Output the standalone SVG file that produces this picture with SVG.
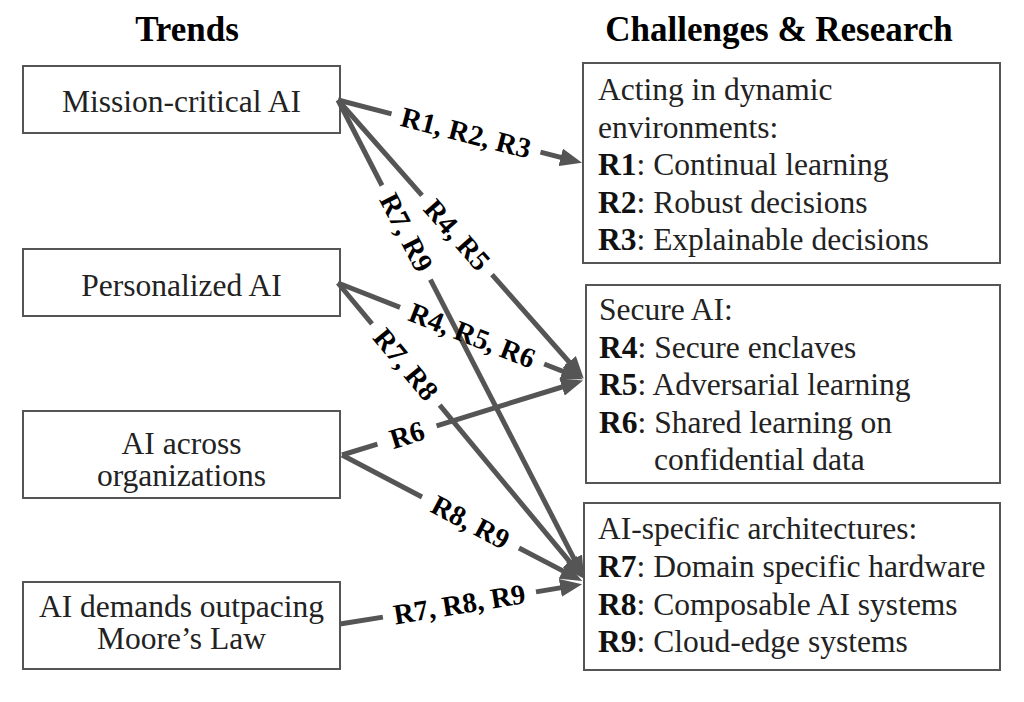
<svg xmlns="http://www.w3.org/2000/svg" width="1024" height="702" viewBox="0 0 1024 702">
<style>
.box{fill:#fff;stroke:#555;stroke-width:2}
.t{font-family:"Liberation Serif","Times New Roman",serif;font-size:31.5px;fill:#222}
.title{font-family:"Liberation Serif","Times New Roman",serif;font-size:35px;font-weight:bold;fill:#000;text-anchor:middle}
.c{text-anchor:middle}
.b{font-weight:bold;fill:#111}
.ln{stroke:#555;stroke-width:5;fill:none}
.lbl{font-family:"Liberation Serif","Times New Roman",serif;font-size:28.5px;font-weight:bold;fill:#000;text-anchor:middle}
</style>
<defs>
<marker id="ah" markerUnits="userSpaceOnUse" markerWidth="22" markerHeight="18" viewBox="0 0 22 18" refX="12" refY="9" orient="auto">
<path d="M0,0 L22,9 L0,18 z" fill="#555"/>
</marker>
</defs>
<rect width="1024" height="702" fill="#fff"/>
<text class="title" x="187" y="41">Trends</text>
<text class="title" x="779" y="41">Challenges &amp; Research</text>

<g id="trend-mission">
<rect class="box" x="23" y="66" width="317" height="67"/>
<text class="t c" x="181.5" y="112">Mission-critical AI</text>
</g>
<g id="trend-personalized">
<rect class="box" x="23" y="249" width="317" height="67"/>
<text class="t c" x="181.5" y="296">Personalized AI</text>
</g>
<g id="trend-orgs">
<rect class="box" x="23" y="411" width="317" height="87"/>
<text class="t c" x="181.5" y="454">AI across</text>
<text class="t c" x="181.5" y="486">organizations</text>
</g>
<g id="trend-moore">
<rect class="box" x="23" y="582" width="317" height="87"/>
<text class="t c" x="181.5" y="617">AI demands outpacing</text>
<text class="t c" x="181.5" y="649">Moore’s Law</text>
</g>

<g id="ch-dynamic">
<rect class="box" x="583" y="63" width="417" height="200"/>
<text class="t" x="598" y="100">Acting in dynamic</text>
<text class="t" x="598" y="137.5">environments:</text>
<text class="t" x="598" y="175"><tspan class="b">R1</tspan>: Continual learning</text>
<text class="t" x="598" y="212.5"><tspan class="b">R2</tspan>: Robust decisions</text>
<text class="t" x="598" y="250"><tspan class="b">R3</tspan>: Explainable decisions</text>
</g>
<g id="ch-secure">
<rect class="box" x="586" y="285" width="414" height="198"/>
<text class="t" x="599" y="320">Secure AI:</text>
<text class="t" x="599" y="357.5"><tspan class="b">R4</tspan>: Secure enclaves</text>
<text class="t" x="599" y="395"><tspan class="b">R5</tspan>: Adversarial learning</text>
<text class="t" x="599" y="432.5"><tspan class="b">R6</tspan>: Shared learning on</text>
<text class="t" x="654" y="470">confidential data</text>
</g>
<g id="ch-arch">
<rect class="box" x="584" y="503" width="416" height="167"/>
<text class="t" x="598" y="539">AI-specific architectures:</text>
<text class="t" x="598" y="577"><tspan class="b">R7</tspan>: Domain specific hardware</text>
<text class="t" x="598" y="614.5"><tspan class="b">R8</tspan>: Composable AI systems</text>
<text class="t" x="598" y="652"><tspan class="b">R9</tspan>: Cloud-edge systems</text>
</g>

<g id="connectors">
<line class="ln" x1="338" y1="100" x2="391.5" y2="113.8"/>
<line class="ln" x1="540.5" y1="152.2" x2="572.3" y2="160.3" marker-end="url(#ah)"/>
<text class="lbl" transform="translate(466,133) rotate(14.42)" dy="0.33em">R1, R2, R3</text>

<line class="ln" x1="338" y1="100" x2="422" y2="195.3"/>
<line class="ln" x1="492" y1="274.7" x2="577.1" y2="371" marker-end="url(#ah)"/>
<text class="lbl" transform="translate(457,235) rotate(48.58)" dy="0.33em">R4, R5</text>

<line class="ln" x1="338" y1="100" x2="382" y2="185.5"/>
<line class="ln" x1="430.4" y1="279.6" x2="579.5" y2="569.3" marker-end="url(#ah)"/>
<text class="lbl" transform="translate(406.2,232.5) rotate(62.77)" dy="0.33em">R7, R9</text>

<line class="ln" x1="338" y1="283" x2="400" y2="307.3"/>
<line class="ln" x1="544.2" y1="364" x2="573.8" y2="375.6" marker-end="url(#ah)"/>
<text class="lbl" transform="translate(472,335.6) rotate(21.44)" dy="0.33em">R4, R5, R6</text>

<line class="ln" x1="338" y1="283" x2="372" y2="323.9"/>
<line class="ln" x1="439.7" y1="405.2" x2="577.3" y2="570.8" marker-end="url(#ah)"/>
<text class="lbl" transform="translate(405.8,364.5) rotate(50.26)" dy="0.33em">R7, R8</text>

<line class="ln" x1="342" y1="455" x2="377.4" y2="444.1"/>
<line class="ln" x1="436.6" y1="425.8" x2="573.5" y2="383.5" marker-end="url(#ah)"/>
<text class="lbl" transform="translate(407,435) rotate(-17.15)" dy="0.33em">R6</text>

<line class="ln" x1="342" y1="455" x2="422" y2="497"/>
<line class="ln" x1="519" y1="548" x2="573.4" y2="576.4" marker-end="url(#ah)"/>
<text class="lbl" transform="translate(470.4,522.4) rotate(27.69)" dy="0.33em">R8, R9</text>

<line class="ln" x1="340" y1="624" x2="382.9" y2="617.1"/>
<line class="ln" x1="536" y1="591.9" x2="572.2" y2="585.9" marker-end="url(#ah)"/>
<text class="lbl" transform="translate(459.4,604.4) rotate(-9.31)" dy="0.33em">R7, R8, R9</text>
</g>
</svg>
